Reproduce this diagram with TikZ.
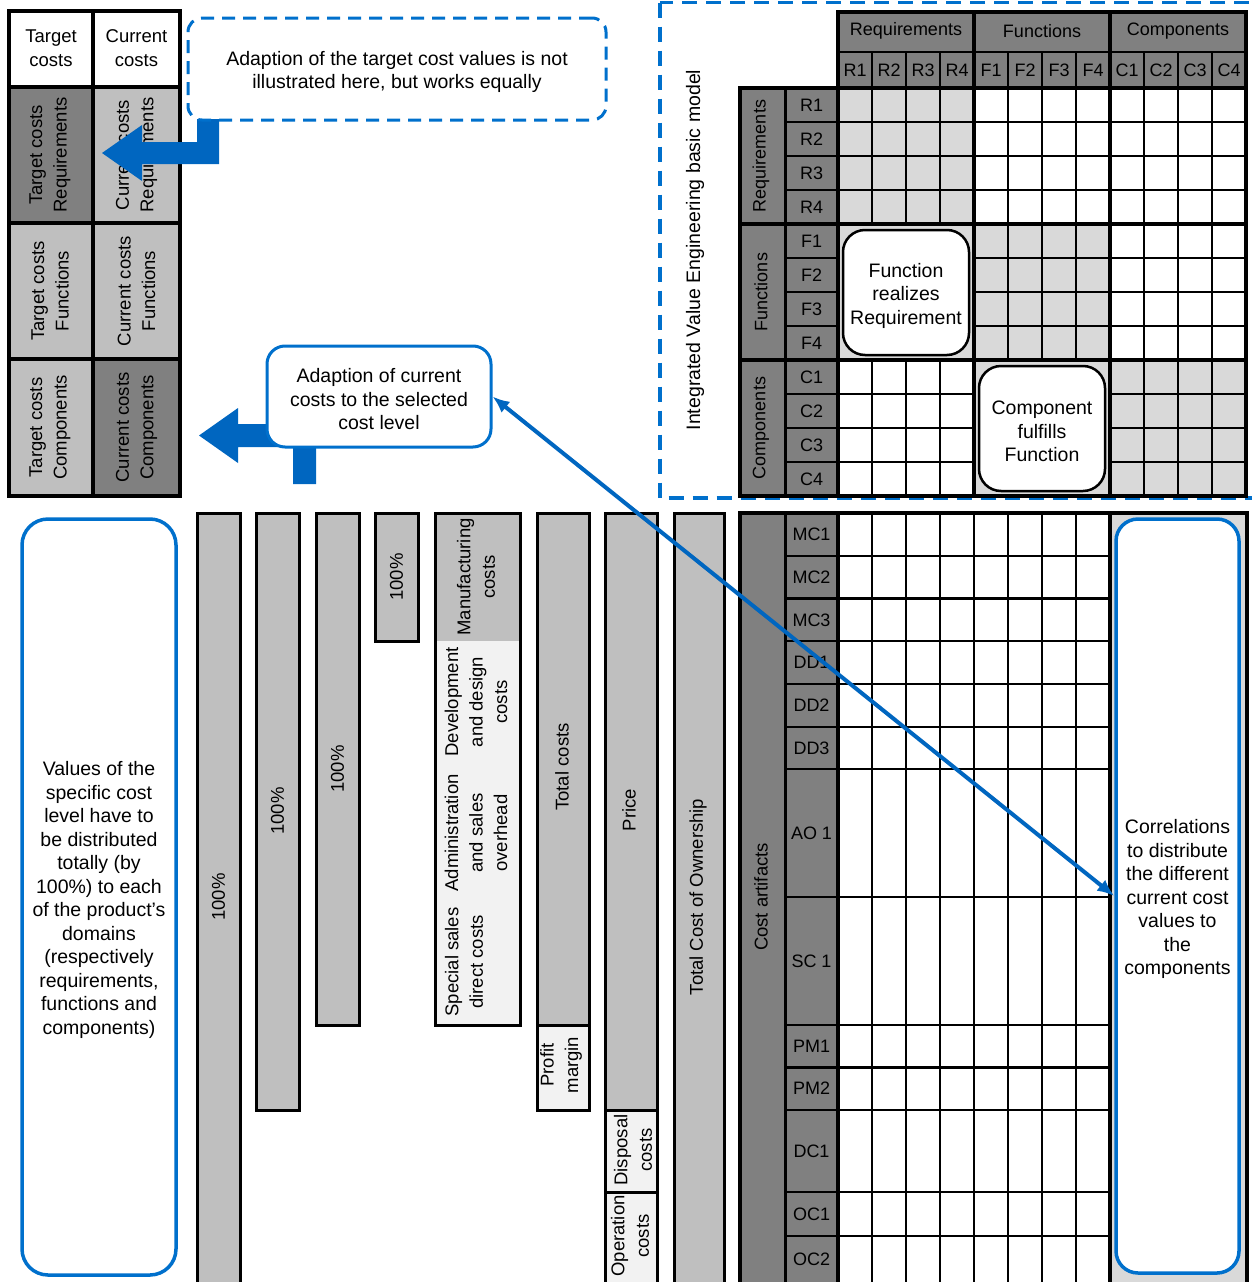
\documentclass[tikz,border=0pt]{standalone}
\usepackage{fontspec}
\setmainfont{Liberation Sans}
\usetikzlibrary{arrows.meta}
\definecolor{dgray}{RGB}{128,128,128}
\definecolor{mgray}{RGB}{191,191,191}
\definecolor{lgray}{RGB}{217,217,217}
\definecolor{pale}{RGB}{242,242,242}
\definecolor{arrowblue}{RGB}{0,102,192}
\definecolor{lineblue}{RGB}{0,112,204}
\begin{document}
\begin{tikzpicture}[x=1pt,y=-1pt,
  bigtext/.style={font=\fontsize{19.5}{23.5}\selectfont, align=center, inner sep=0pt},
  lbl/.style={font=\fontsize{18.5}{24.5}\selectfont, align=center, inner sep=0pt},
  celltext/.style={font=\fontsize{18}{22}\selectfont, inner sep=0pt},
  vtext/.style={lbl, rotate=90},
  gridline/.style={line width=2.5pt},
  heavyline/.style={line width=4pt},
  barbox/.style={draw=black, line width=3pt},
  bluebox/.style={draw=lineblue, line width=3.5pt, fill=white, rounded corners=24pt, inner sep=0pt},
  blockbox/.style={draw=black, line width=2.5pt, fill=white, rounded corners=22pt, inner sep=0pt},
  boxtext/.style={label={[bigtext, yshift=-3pt]center:#1}},
  bluearrow/.style={fill=arrowblue},
]
\useasboundingbox (0,0) rectangle (1252,1282);
\clip (0,0) rectangle (1252,1282);

% ---------- dashed frame of the basic model ----------
\draw[lineblue, line width=3.5pt, dash pattern=on 15pt off 9pt] (660,2.5) rectangle (1275,498);
\node[lbl, rotate=90, font=\fontsize{19.5}{23.5}\selectfont] (ivemodel) at (695,250) {Integrated Value Engineering basic model};

% ---------- target / current cost table ----------
\fill[white] (9,11) rectangle (180,87);
\fill[dgray] (9,87) rectangle (93,223);
\fill[mgray] (93,87) rectangle (180,223);
\fill[mgray] (9,223) rectangle (180,359);
\fill[mgray] (9,359) rectangle (93,496);
\fill[dgray] (93,359) rectangle (180,496);
\draw[line width=4.5pt] (9,11) rectangle (180,496);
\draw[line width=4.5pt] (93,11) -- (93,496);
\foreach \yy in {87,223,359} \draw[line width=4.5pt] (9,\yy) -- (180,\yy);
\node[lbl] (tchead) at (51,48) {Target\\costs};
\node[lbl] (cchead) at (136.5,48) {Current\\costs};
\node[vtext] (treq) at (50,155) {Target costs\\Requirements};
\node[vtext] (creq) at (136.5,155) {Current costs\\Requirements};
\node[vtext] (tfun) at (50,291) {Target costs\\Functions};
\node[vtext] (cfun) at (136.5,291) {Current costs\\Functions};
\node[vtext] (tcom) at (50,427.5) {Target costs\\Components};
\node[vtext] (ccom) at (136.5,427.5) {Current costs\\Components};

% ---------- bent block arrows ----------
\fill[bluearrow] (197,119) -- (219,119) -- (219,164) -- (142,164) -- (142,181)
  -- (102,153) -- (142,125) -- (142,142) -- (197,142) -- cycle;
\fill[bluearrow] (293,484) -- (316,484) -- (316,424) -- (238,424) -- (238,408)
  -- (199,435.5) -- (238,463) -- (238,447) -- (293,447) -- cycle;

\node[draw=lineblue, line width=3pt, dash pattern=on 13pt off 8pt, rounded corners=14pt,
  minimum width=418pt, minimum height=102pt,
  boxtext={{Adaption of the target cost values is not\\illustrated here, but works equally}}]
  (note) at (397,69) {};
\node[bluebox, rounded corners=18pt, line width=3pt, minimum width=224pt, minimum height=101pt,
  boxtext={{Adaption of current\\costs to the selected\\cost level}}]
  (adapt) at (379,396.5) {};

% ---------- basic model matrix ----------
\fill[dgray] (838,12) rectangle (1246,88);
\fill[dgray] (740,88) rectangle (838,496);
\fill[white] (838,88) rectangle (1246,496);
\fill[lgray] (838,88) rectangle (974,360);
\fill[lgray] (974,224) rectangle (1110,496);
\fill[lgray] (1110,360) rectangle (1246,496);
\foreach \k in {1,2,3,5,6,7,9,10,11} {
  \draw[gridline] ({838+34*\k},52) -- ({838+34*\k},496);
  \draw[gridline] (785,{88+34*\k}) -- (1246,{88+34*\k});
}
\draw[gridline] (838,52) -- (1246,52);
\fill[lgray] (838,224) rectangle (974,360);
\fill[lgray] (974,360) rectangle (1110,496);
\draw[heavyline] (838,496) -- (838,12) -- (1246,12) -- (1246,496);
\draw[heavyline] (740,88) rectangle (1246,496);
\draw[heavyline] (838,88) -- (1246,88);
\foreach \xx in {974,1110} \draw[heavyline] (\xx,12) -- (\xx,496);
\foreach \yy in {224,360} \draw[heavyline] (740,\yy) -- (1246,\yy);
\draw[line width=3pt] (785,88) -- (785,496);

\foreach \t [count=\i from 0] in {Requirements,Functions,Components}
  \node[celltext] (grp\i) at ({906+136*\i},31) {\t};
\foreach \t [count=\i from 0] in {R1,R2,R3,R4,F1,F2,F3,F4,C1,C2,C3,C4} {
  \node[celltext] (col\i) at ({855+34*\i},70) {\t};
  \node[celltext] (row\i) at (811.5,{105+34*\i}) {\t};
}
\node[vtext, font=\fontsize{18}{22}\selectfont] (sreq) at (761,156) {Requirements};
\node[vtext, font=\fontsize{18}{22}\selectfont] (sfun) at (761,292) {Functions};
\node[vtext, font=\fontsize{18}{22}\selectfont] (scom) at (761,428) {Components};

\node[blockbox, minimum width=126pt, minimum height=125pt,
  boxtext={{Function\\realizes\\Requirement}}] (realizes) at (906,292.5) {};
\node[blockbox, minimum width=126pt, minimum height=125pt,
  boxtext={{Component\\fulfills\\Function}}] (fulfills) at (1042,428.5) {};

% ---------- cost level bars ----------
\draw[barbox, fill=mgray] (197,513) rectangle (240,1295);
\node[vtext] (pct1) at (218.5,897) {100\%};
\draw[barbox, fill=mgray] (256,513) rectangle (299,1110);
\node[vtext] (pct2) at (277.5,811) {100\%};
\draw[barbox, fill=mgray] (316,513) rectangle (359,1025);
\node[vtext] (pct3) at (337.5,769) {100\%};
\draw[barbox, fill=mgray] (375,513) rectangle (418,641);
\node[vtext] (pct4) at (396.5,577) {100\%};

\fill[mgray] (435,513) rectangle (520,641);
\fill[pale] (435,641) rectangle (520,1025);
\draw[barbox] (435,513) rectangle (520,1025);
\node[vtext] (manu) at (476,577) {Manufacturing\\costs};
\node[vtext] (devel) at (476,702) {Development\\and design\\costs};
\node[vtext] (admin) at (476,833) {Administration\\and sales\\overhead};
\node[vtext] (special) at (464,962) {Special sales\\direct costs};

\draw[barbox, fill=mgray] (537,513) rectangle (589,1025);
\draw[barbox, fill=pale] (537,1025) rectangle (589,1110);
\node[vtext] (total) at (562,767) {Total costs};
\node[vtext] (profit) at (561,1065) {Profit\\margin};

\draw[barbox, fill=mgray] (605,513) rectangle (657,1110);
\draw[barbox, fill=pale] (605,1110) rectangle (657,1192);
\draw[barbox, fill=pale] (605,1192) rectangle (657,1295);
\node[vtext] (price) at (629,810) {Price};
\node[vtext] (dispo) at (633,1150) {Disposal\\costs};
\node[vtext] (opera) at (630,1236) {Operation\\costs};

\draw[barbox, fill=mgray] (674,513) rectangle (724,1295);
\node[vtext] (tco) at (698,897) {Total Cost of Ownership};

% ---------- cost artifact matrix ----------
\fill[dgray] (740,513) rectangle (838,1295);
\fill[white] (838,513) rectangle (1110,1295);
\fill[lgray] (1110,513) rectangle (1247,1295);
\foreach \xx in {872,906,940,974,1008,1042,1076} \draw[line width=2.8pt] (\xx,513) -- (\xx,1295);
\foreach \yy in {556,598.5,641,684,727,769,897,1025,1067.5,1110,1192,1236}
  \draw[line width=2.8pt] (785,\yy) -- (1110,\yy);
\draw[heavyline] (740,1295) -- (740,513) -- (1247,513) -- (1247,1295);
\draw[line width=3pt] (785,513) -- (785,1295);
\draw[heavyline] (838,513) -- (838,1295);
\draw[heavyline] (1110,513) -- (1110,1295);
\foreach \yy/\t [count=\i] in {534.5/MC1,577/MC2,620/MC3,662.5/DD1,705.5/DD2,748/DD3,
  833/AO 1,961/SC 1,1046/PM1,1088.5/PM2,1151/DC1,1214/OC1,1259/OC2}
  \node[celltext] (art\i) at (811.5,\yy) {\t};
\node[vtext, font=\fontsize{18.5}{22}\selectfont] (artifacts) at (761,897) {Cost artifacts};

\node[bluebox, rounded corners=22pt, minimum width=123pt, minimum height=754pt,
  boxtext={{Correlations\\to distribute\\the different\\current cost\\values to\\the\\components}}]
  (corr) at (1177.5,896) {};

% ---------- explanation on the left ----------
\node[bluebox, rounded corners=26pt, minimum width=154pt, minimum height=756pt,
  boxtext={{Values of the\\specific cost\\level have to\\be distributed\\totally (by\\100\%) to each\\of the product’s\\domains\\(respectively\\requirements,\\functions and\\components)}}]
  (values) at (99,897) {};

% ---------- correlation link ----------
\draw[arrowblue, line width=4pt, {Latex[length=17pt,width=14pt]}-{Latex[length=17pt,width=14pt]}]
  (adapt.east) -- (corr.west);
\end{tikzpicture}
\end{document}
